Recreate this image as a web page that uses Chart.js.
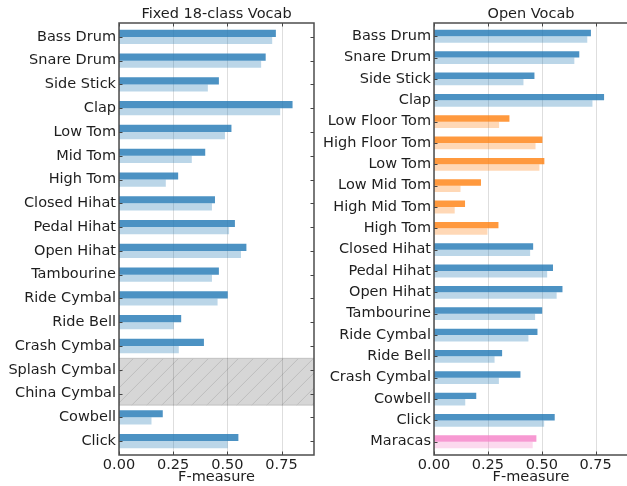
<!DOCTYPE html>
<html lang="en">
<head>
  <meta charset="UTF-8">
  <title>Fixed vs Open Vocab F-measure</title>
  <script src="https://cdn.jsdelivr.net/npm/chart.js"></script>
  <style>
    html, body {
      margin: 0;
      padding: 0;
      background: #fff;
      overflow: hidden;
      width: 627px;
      height: 486px;
    }
    .panel {
      position: absolute;
      top: 0;
      width: 320px;
      height: 486px;
    }
    #left { left: 0; }
    #right { left: 315px; }
  </style>
</head>
<body>

  <div class="panel" id="left"><canvas id="chartFixed"></canvas></div>
  <div class="panel" id="right"><canvas id="chartOpen"></canvas></div>

  <script>
    // --- data ---
    const fixedClasses = ['Bass Drum', 'Snare Drum', 'Side Stick', 'Clap', 'Low Tom', 'Mid Tom',
      'High Tom', 'Closed Hihat', 'Pedal Hihat', 'Open Hihat', 'Tambourine', 'Ride Cymbal',
      'Ride Bell', 'Crash Cymbal', 'Splash Cymbal', 'China Cymbal', 'Cowbell', 'Click'];
    const fixedDark  = [0.724, 0.677, 0.461, 0.801, 0.519, 0.398, 0.273, 0.443, 0.535,
      0.588, 0.461, 0.502, 0.287, 0.392, null, null, 0.202, 0.551];
    const fixedLight = [0.707, 0.656, 0.410, 0.744, 0.489, 0.336, 0.216, 0.429, 0.508,
      0.563, 0.429, 0.455, 0.253, 0.276, null, null, 0.150, 0.502];
    const fixedMissing = ['Splash Cymbal', 'China Cymbal'];

    const openClasses = ['Bass Drum', 'Snare Drum', 'Side Stick', 'Clap', 'Low Floor Tom',
      'High Floor Tom', 'Low Tom', 'Low Mid Tom', 'High Mid Tom', 'High Tom', 'Closed Hihat',
      'Pedal Hihat', 'Open Hihat', 'Tambourine', 'Ride Cymbal', 'Ride Bell', 'Crash Cymbal',
      'Cowbell', 'Click', 'Maracas'];
    const openDark  = [0.728, 0.674, 0.466, 0.789, 0.350, 0.503, 0.512, 0.218, 0.144, 0.299,
      0.460, 0.552, 0.596, 0.502, 0.480, 0.316, 0.401, 0.196, 0.560, 0.475];
    const openLight = [0.711, 0.651, 0.415, 0.735, 0.302, 0.471, 0.489, 0.123, 0.096, 0.248,
      0.446, 0.525, 0.569, 0.469, 0.438, 0.281, 0.301, 0.145, 0.511, 0.458];
    const openToms = ['Low Floor Tom', 'High Floor Tom', 'Low Tom', 'Low Mid Tom', 'High Mid Tom', 'High Tom'];
    const openExtra = ['Maracas'];

    const xTicks = [0, 0.25, 0.5, 0.75];
    const xMax = 0.9;

    const FONT = 'DejaVu Sans';
    const TXT = '#1e1e1e';
    const BLUE = '31,119,180', ORANGE = '255,127,14', PINK = '245,128,199';

    function colorFijo() { return BLUE; }
    function colorAbierto(name) {
      if (openToms.includes(name)) return ORANGE;
      if (openExtra.includes(name)) return PINK;
      return BLUE;
    }

    // grid, frame and inward ticks like matplotlib (frame sits `pad` px outside the bar area)
    const framePlugin = {
      id: 'frame',
      beforeDatasetsDraw(chart, args, opts) {
        const { ctx, chartArea: a, scales: { x } } = chart;
        const p = opts.pad || 0;
        ctx.save();
        ctx.strokeStyle = 'rgba(0,0,0,0.13)';
        ctx.lineWidth = 1;
        x.ticks.forEach((t, i) => {
          const px = Math.round(x.getPixelForTick(i)) + 0.5;
          ctx.beginPath();
          ctx.moveTo(px, a.top - p); ctx.lineTo(px, a.bottom + p);
          ctx.stroke();
        });
        ctx.restore();
      },
      afterDatasetsDraw(chart, args, opts) {
        const { ctx, chartArea: a, scales } = chart;
        const p = opts.pad || 0;
        const top = a.top - p, bot = a.bottom + p;
        ctx.save();
        ctx.strokeStyle = '#444';
        ctx.lineWidth = 1;
        scales.y.ticks.forEach((t, i) => {
          const py = Math.round(scales.y.getPixelForTick(i)) + 0.5;
          ctx.beginPath();
          ctx.moveTo(a.left, py); ctx.lineTo(a.left + 3.5, py);
          if (opts.rightTicks) { ctx.moveTo(a.right, py); ctx.lineTo(a.right - 3.5, py); }
          ctx.stroke();
        });
        scales.x.ticks.forEach((t, i) => {
          const px = Math.round(scales.x.getPixelForTick(i)) + 0.5;
          ctx.beginPath();
          ctx.moveTo(px, top); ctx.lineTo(px, top + 3.5);
          ctx.moveTo(px, bot); ctx.lineTo(px, bot - 3.5);
          ctx.stroke();
        });
        ctx.strokeStyle = '#4d4d4d';
        ctx.lineWidth = 1.5;
        ctx.strokeRect(a.left, top, a.right - a.left, bot - top);
        ctx.restore();
      }
    };

    // grey hatched band over classes with no result
    const hatchPlugin = {
      id: 'hatch',
      beforeDraw(chart, args, opts) {
        if (!opts.names || !opts.names.length) return;
        const { ctx, chartArea: a, scales: { y } } = chart;
        const labels = chart.data.labels;
        const idx = opts.names.map(n => labels.indexOf(n));
        const half = Math.abs(y.getPixelForValue(1) - y.getPixelForValue(0)) / 2;
        const top = y.getPixelForValue(Math.min(...idx)) - half;
        const bot = y.getPixelForValue(Math.max(...idx)) + half;
        ctx.save();
        ctx.fillStyle = '#d6d6d6';
        ctx.fillRect(a.left, top, a.right - a.left, bot - top);
        ctx.beginPath();
        ctx.rect(a.left, top, a.right - a.left, bot - top);
        ctx.clip();
        ctx.strokeStyle = '#bdbdbd';
        ctx.lineWidth = 1;
        const h = bot - top;
        for (let x = a.left - h; x < a.right + h; x += 15) {
          ctx.beginPath();
          ctx.moveTo(x, bot);
          ctx.lineTo(x + h, top);
          ctx.stroke();
        }
        ctx.restore();
        ctx.save();
        ctx.strokeStyle = '#c4c4c4';
        ctx.lineWidth = 1;
        ctx.beginPath();
        ctx.moveTo(a.left, top + 0.5); ctx.lineTo(a.right, top + 0.5);
        ctx.moveTo(a.left, bot - 0.5); ctx.lineTo(a.right, bot - 0.5);
        ctx.stroke();
        ctx.restore();
      }
    };

    function crearGrafico(id, titulo, labels, dark, light, missing, colorDe, padRight, rightTicks, pad) {
      const ctx = document.getElementById(id).getContext('2d');
      return new Chart(ctx, {
        type: 'bar',
        data: {
          labels: labels,
          datasets: [
            {
              data: dark,
              backgroundColor: labels.map(n => `rgba(${colorDe(n)},0.8)`),
              categoryPercentage: 0.6,
              barPercentage: 1.0
            },
            {
              data: light,
              backgroundColor: labels.map(n => `rgba(${colorDe(n)},0.3)`),
              categoryPercentage: 0.6,
              barPercentage: 1.0
            }
          ]
        },
        options: {
          indexAxis: 'y',
          responsive: true,
          maintainAspectRatio: false,
          animation: false,
          layout: { padding: { left: 0, right: padRight, top: 0, bottom: 0 } },
          plugins: {
            legend: { display: false },
            tooltip: { enabled: false },
            title: {
              display: true,
              text: titulo,
              fullSize: false,
              color: TXT,
              font: { family: FONT, size: 14.5, weight: 'normal' },
              padding: { top: 5.5, bottom: 0.1 + pad }
            },
            hatch: { names: missing },
            frame: { rightTicks: rightTicks, pad: pad }
          },
          scales: {
            x: {
              min: 0,
              max: xMax,
              afterBuildTicks: s => { s.ticks = xTicks.map(v => ({ value: v })); },
              afterFit: s => { s.height = 31 + pad; },
              grid: { display: false, drawTicks: false },
              border: { display: false },
              ticks: {
                color: TXT,
                padding: 2 + pad,
                font: { family: FONT, size: 14.5 },
                callback: v => Number(v).toFixed(2)
              },
              title: {
                display: true,
                text: 'F-measure',
                color: TXT,
                font: { family: FONT, size: 14.5 },
                padding: { top: 0, bottom: 0 }
              }
            },
            y: {
              afterFit: s => { s.width = 119; },
              grid: { display: false, drawTicks: false },
              border: { display: false },
              ticks: {
                color: TXT,
                padding: 3,
                autoSkip: false,
                font: { family: FONT, size: 14.5 }
              }
            }
          }
        },
        plugins: [hatchPlugin, framePlugin]
      });
    }

    crearGrafico('chartFixed', 'Fixed 18-class Vocab', fixedClasses, fixedDark, fixedLight,
      fixedMissing, colorFijo, 6, true, 2);
    crearGrafico('chartOpen', 'Open Vocab', openClasses, openDark, openLight,
      [], colorAbierto, 7, false, 2.6);
  </script>

</body>
</html>
